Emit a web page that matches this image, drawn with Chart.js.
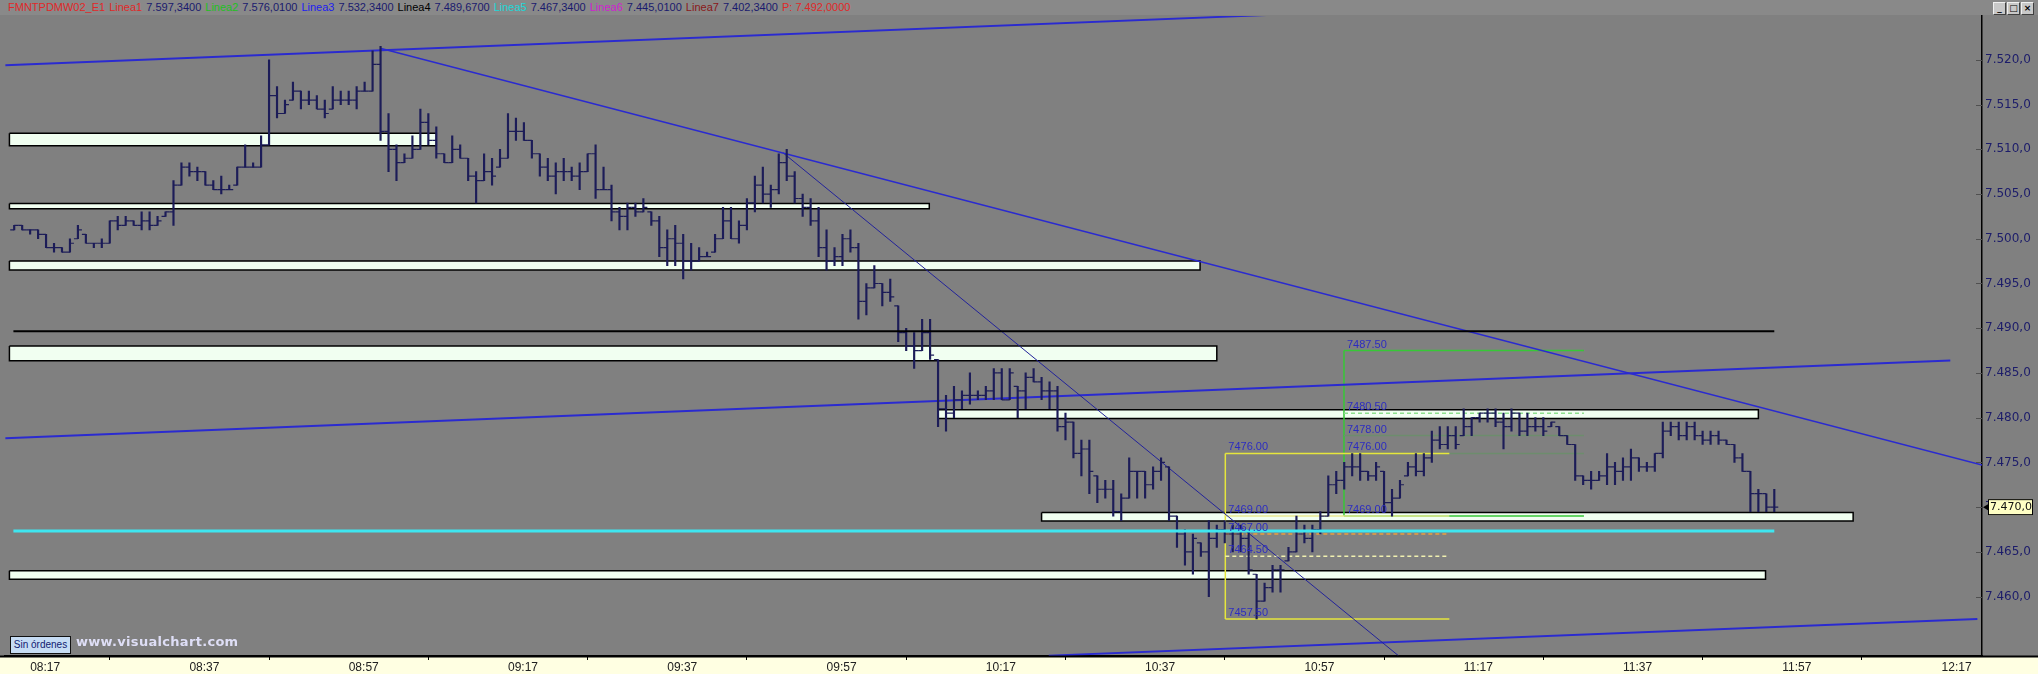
<!DOCTYPE html>
<html><head><meta charset="utf-8">
<script src="https://cdn.jsdelivr.net/npm/chart.js@4.4.1/dist/chart.umd.min.js"></script>
<style>
html,body{margin:0;padding:0;background:#808080;overflow:hidden}
#wrap{position:relative;width:2038px;height:674px}
#c{position:absolute;left:0;top:0}
#hdr{position:absolute;left:0;top:0;width:2038px;height:15px;background:#898989;font:11px "Liberation Sans",Arial,sans-serif;line-height:15px;white-space:nowrap;padding-left:8px;box-sizing:border-box}
#hdr span{margin-right:4px}
.navy{color:#1a1a6e}
#btns{position:absolute;right:4px;top:2px;display:flex;gap:1px}
#btns div{width:11px;height:11px;background:#c8c8c8;border:1px solid #f0f0f0;border-right-color:#404040;border-bottom-color:#404040;font:bold 9px "DejaVu Sans",sans-serif;line-height:10px;text-align:center;color:#000}
#sin{position:absolute;left:10px;top:636px;width:59px;height:16px;background:#c6dcf4;border:1px solid #101010;font:10px "Liberation Sans",Arial,sans-serif;line-height:16px;text-align:center;color:#102070}
#wm{position:absolute;left:76px;top:634px;font:bold 13px "DejaVu Sans",sans-serif;color:#dedef6;letter-spacing:0.3px}
</style></head>
<body>
<div id="wrap">
<canvas id="c" width="2038" height="674"></canvas>
<div id="hdr"><span style="color:#e02828">FMNTPDMW02_E1</span><span style="color:#e02828">Linea1</span><span class="navy">7.597,3400</span><span style="color:#22c022">Linea2</span><span class="navy">7.576,0100</span><span style="color:#2020f0">Linea3</span><span class="navy">7.532,3400</span><span style="color:#000">Linea4</span><span class="navy">7.489,6700</span><span style="color:#20d8d8">Linea5</span><span class="navy">7.467,3400</span><span style="color:#d020d0">Linea6</span><span class="navy">7.445,0100</span><span style="color:#8a1818">Linea7</span><span class="navy">7.402,3400</span><span style="color:#e02828">P: 7.492,0000</span></div>
<div id="btns"><div>_</div><div>□</div><div>×</div></div>
<div id="sin">Sin órdenes</div>
<div id="wm">www.visualchart.com</div>
</div>
<script>
// ---- time axis (minutes after 08:17) ----
const timeTicks = [0,20,40,60,80,100,120,140,160,180,200,220,240];
const timeLabels = ['08:17','08:37','08:57','09:17','09:37','09:57','10:17','10:37','10:57','11:17','11:37','11:57','12:17'];
const priceTicks = [7460,7465,7470,7475,7480,7485,7490,7495,7500,7505,7510,7515,7520];
const firstBar = -2; // first bar at 08:15

// ---- OHLC, one bar per minute from 08:15 ----
const highs = [
7501.5,7501.5,7501.0,7501.0,7500.5,7499.5,7499.0,7500.0,7501.5,7500.5,
7499.5,7500.0,7502.0,7502.5,7502.5,7502.0,7503.0,7503.0,7502.5,7503.0,
7506.5,7508.5,7508.5,7508.0,7507.5,7506.5,7507.0,7506.0,7508.0,7510.5,
7508.5,7511.5,7520.0,7517.0,7515.5,7517.5,7516.5,7516.5,7516.0,7515.5,
7517.0,7516.5,7516.5,7517.0,7517.5,7521.0,7521.5,7514.0,7510.5,7509.5,
7511.5,7514.5,7514.0,7512.5,7509.5,7511.5,7510.5,7509.0,7507.5,7509.5,
7509.0,7510.0,7514.0,7513.5,7513.0,7511.0,7509.5,7509.0,7508.5,7509.0,
7508.0,7508.5,7509.5,7510.5,7508.0,7506.0,7503.5,7504.0,7504.0,7504.5,
7503.0,7502.5,7501.0,7501.5,7500.5,7499.5,7499.0,7498.5,7500.5,7503.5,
7503.5,7502.0,7504.5,7507.0,7508.0,7506.0,7509.5,7510.0,7507.5,7505.0,
7504.5,7503.5,7501.0,7499.0,7500.5,7501.0,7499.5,7495.0,7497.0,7495.0,
7495.5,7492.5,7490.0,7489.5,7491.0,7491.0,7486.5,7482.5,7483.5,7483.0,
7485.0,7483.0,7483.5,7485.5,7485.5,7485.5,7483.5,7485.0,7485.5,7484.5,
7484.0,7483.5,7480.5,7479.5,7477.5,7477.5,7473.5,7473.0,7473.0,7471.5,
7475.5,7474.0,7474.0,7474.5,7475.5,7474.5,7469.0,7467.5,7467.0,7466.0,
7468.5,7468.0,7468.5,7468.0,7468.0,7467.5,7462.5,7461.5,7463.5,7463.5,
7465.5,7469.0,7468.0,7468.0,7469.5,7473.5,7474.0,7475.0,7476.0,7476.0,
7474.0,7475.0,7474.0,7472.0,7473.0,7475.0,7476.0,7476.0,7478.5,7479.0,
7479.0,7479.0,7481.0,7480.0,7480.5,7481.0,7481.0,7480.5,7481.0,7480.5,
7480.5,7480.0,7480.0,7479.5,7479.0,7478.0,7477.0,7473.5,7474.0,7474.0,
7476.0,7475.0,7475.5,7476.5,7475.5,7475.0,7476.0,7479.5,7479.5,7479.5,
7479.5,7479.5,7478.5,7478.5,7478.5,7477.5,7477.0,7476.0,7474.0,7472.0,
7471.5,7472.0];
const lows = [
7501.0,7501.0,7500.5,7500.0,7499.0,7498.5,7498.5,7498.5,7500.0,7499.5,
7499.0,7499.0,7499.5,7501.0,7501.5,7501.5,7501.0,7501.0,7501.5,7502.5,
7501.5,7506.0,7507.0,7506.5,7506.0,7505.5,7505.0,7505.5,7506.0,7508.0,
7508.0,7508.0,7510.5,7513.5,7514.0,7515.5,7514.5,7515.0,7514.5,7513.5,
7514.5,7515.0,7515.0,7514.5,7516.5,7516.5,7511.0,7507.5,7506.5,7508.5,
7509.0,7510.0,7510.5,7509.0,7508.5,7508.5,7509.0,7506.5,7504.0,7506.5,
7506.0,7508.0,7509.0,7511.0,7511.0,7509.0,7507.0,7506.5,7505.0,7506.5,
7506.5,7505.5,7507.5,7504.5,7505.5,7502.0,7501.0,7501.0,7502.5,7503.0,
7501.5,7498.0,7497.0,7497.0,7495.5,7496.5,7497.5,7498.0,7498.5,7500.0,
7500.0,7499.5,7501.0,7503.0,7504.0,7503.5,7505.0,7506.5,7504.0,7502.5,
7501.5,7498.0,7496.5,7497.0,7497.0,7498.5,7491.0,7491.5,7494.5,7492.5,
7493.0,7488.5,7487.5,7485.5,7487.5,7486.5,7479.0,7478.5,7480.0,7481.0,
7481.5,7482.0,7482.0,7482.0,7482.0,7482.0,7480.0,7481.0,7484.0,7482.0,
7481.0,7478.5,7477.5,7475.5,7473.5,7471.5,7470.5,7471.0,7469.0,7468.5,
7471.0,7471.0,7471.0,7472.0,7473.0,7468.5,7465.5,7463.5,7462.5,7464.5,
7460.0,7465.5,7466.0,7465.0,7465.0,7462.5,7457.5,7459.5,7460.5,7460.5,
7464.0,7465.0,7466.0,7465.0,7467.0,7469.0,7471.5,7472.0,7473.5,7473.0,
7473.0,7473.0,7469.5,7469.0,7471.0,7473.5,7473.5,7473.5,7475.0,7476.5,
7476.5,7476.5,7478.0,7478.0,7479.5,7479.5,7479.0,7476.5,7478.5,7478.0,
7478.0,7478.5,7478.0,7479.0,7478.0,7477.0,7473.0,7472.5,7472.0,7473.0,
7472.5,7472.5,7473.0,7473.0,7474.0,7474.0,7474.0,7475.5,7478.0,7477.5,
7477.5,7477.5,7477.0,7477.0,7477.0,7477.0,7475.0,7474.0,7469.5,7469.5,
7469.5,7469.5];
const opens = [
7501.0,7501.5,7501.0,7501.0,7500.5,7499.0,7499.0,7498.5,7500.0,7500.5,
7499.5,7499.5,7499.5,7502.0,7501.5,7502.0,7501.5,7502.0,7501.5,7502.5,
7503.0,7506.0,7508.0,7507.5,7507.5,7506.0,7505.5,7505.5,7506.0,7508.0,
7508.0,7508.0,7510.5,7516.0,7514.0,7515.5,7516.5,7515.5,7515.5,7514.5,
7514.5,7515.5,7515.5,7515.5,7516.5,7516.5,7519.5,7512.0,7510.0,7508.5,
7509.0,7510.0,7513.0,7511.0,7509.5,7508.5,7510.0,7509.0,7507.0,7506.5,
7507.5,7508.0,7509.0,7512.0,7512.0,7511.0,7509.5,7508.0,7507.0,7507.5,
7507.5,7507.0,7507.5,7509.5,7505.5,7505.5,7503.0,7502.5,7503.5,7503.0,
7503.0,7502.0,7499.0,7500.0,7499.5,7497.5,7497.5,7498.0,7498.5,7500.0,
7502.0,7500.0,7501.5,7504.0,7506.0,7505.0,7505.5,7508.5,7507.0,7504.5,
7503.5,7502.0,7499.0,7497.5,7498.0,7500.0,7499.0,7493.0,7494.5,7495.0,
7494.0,7492.5,7489.5,7488.0,7487.5,7489.5,7486.5,7481.0,7480.5,7482.0,
7482.5,7482.5,7482.5,7483.0,7485.0,7482.0,7483.5,7483.0,7484.5,7484.0,
7483.0,7483.0,7479.0,7479.5,7476.0,7476.5,7473.5,7472.0,7472.0,7469.5,
7471.0,7474.0,7474.0,7472.5,7474.0,7474.5,7469.0,7467.0,7465.0,7466.0,
7465.0,7466.5,7467.5,7467.0,7467.0,7466.5,7462.5,7459.5,7461.0,7463.0,
7464.0,7465.0,7467.0,7466.5,7467.5,7469.0,7472.5,7473.0,7474.5,7474.5,
7474.0,7473.5,7474.0,7470.5,7471.0,7473.5,7474.5,7474.0,7475.5,7477.5,
7477.0,7478.0,7478.0,7479.0,7480.0,7480.5,7480.5,7479.5,7479.0,7480.5,
7478.5,7479.0,7479.0,7479.0,7479.0,7478.0,7477.0,7473.5,7473.0,7473.0,
7473.5,7474.5,7474.0,7474.5,7475.5,7474.5,7474.5,7476.0,7478.5,7479.0,
7478.0,7479.0,7478.0,7477.5,7478.0,7477.5,7477.0,7475.5,7474.0,7471.5,
7471.5,7470.0];
const closes = [
7501.5,7501.0,7501.0,7500.5,7499.0,7499.0,7498.5,7499.5,7501.0,7499.5,
7499.5,7499.5,7502.0,7501.5,7502.0,7501.5,7502.0,7501.5,7502.0,7503.0,
7506.0,7508.0,7507.5,7507.5,7506.0,7505.5,7505.5,7505.5,7508.0,7508.0,
7508.0,7510.5,7516.0,7514.0,7515.0,7516.5,7515.5,7515.5,7514.5,7514.0,
7515.5,7515.5,7515.5,7516.5,7516.5,7519.5,7512.0,7510.0,7508.5,7509.0,
7510.0,7513.0,7511.0,7509.5,7508.5,7510.0,7509.0,7507.0,7506.5,7507.5,
7507.0,7509.0,7512.0,7512.0,7511.0,7509.5,7508.0,7507.0,7507.5,7507.5,
7507.0,7507.5,7509.5,7505.5,7505.5,7503.0,7502.5,7503.5,7503.0,7503.5,
7502.0,7499.0,7500.0,7499.5,7497.5,7497.5,7498.0,7498.0,7500.0,7502.0,
7500.0,7501.5,7504.0,7506.0,7505.0,7505.5,7508.5,7507.0,7504.5,7503.5,
7502.0,7499.0,7497.5,7498.0,7500.0,7499.0,7493.0,7494.5,7495.0,7494.0,
7493.5,7489.5,7488.0,7487.5,7489.5,7487.0,7481.0,7480.5,7482.0,7482.5,
7482.5,7482.5,7483.0,7485.0,7482.0,7485.0,7483.0,7484.5,7484.0,7483.0,
7483.0,7479.0,7479.5,7476.0,7476.5,7474.0,7472.0,7472.0,7469.5,7471.0,
7474.0,7474.0,7472.5,7474.0,7475.0,7469.0,7467.0,7465.0,7466.5,7465.0,
7466.5,7467.5,7467.0,7467.0,7466.5,7463.0,7459.5,7461.0,7463.0,7463.0,
7465.0,7467.0,7466.5,7467.5,7469.0,7472.5,7473.0,7474.5,7474.5,7474.0,
7473.5,7474.5,7470.5,7471.0,7472.5,7474.5,7474.0,7475.5,7477.5,7477.0,
7478.0,7477.0,7479.0,7480.0,7480.5,7480.5,7479.5,7479.0,7480.5,7478.5,
7479.0,7479.0,7478.5,7479.5,7478.0,7477.0,7473.5,7473.0,7473.0,7473.5,
7474.5,7474.0,7474.5,7475.5,7474.5,7474.5,7476.0,7478.5,7479.0,7478.0,
7479.0,7478.0,7477.5,7478.0,7477.5,7477.0,7475.5,7474.0,7471.5,7471.5,
7470.0,7470.0];

// ---- horizontal levels (Linea4 black, Linea5 cyan) ----
const linea4 = 7489.67;
const linea5 = 7467.34;
const levelSpan = [-2.1, 219];

// ---- white support/resistance zones ----
const boxStart  = [-2.6, -2.6, -2.6, -2.6, 114.0, 127.0, -2.6];
const boxEnd    = [51.0, 112.9, 146.9, 149.0, 217.0, 228.9, 217.9];
const boxTop    = [7511.8, 7503.95, 7497.5, 7488.0, 7480.9, 7469.4, 7462.9];
const boxBottom = [7510.4, 7503.35, 7496.5, 7486.35, 7479.9, 7468.45, 7461.95];

// ---- trend lines ----
const trendX1 = [-3.13, 43.96, 94.55, -3.13, 127.9];
const trendY1 = [7519.4, 7521.3, 7509.6, 7477.7, 7453.4];
const trendX2 = [155.2, 245.08, 171.8, 241.1, 244.5];
const trendY2 = [7525.0, 7474.7, 7453.4, 7486.4, 7457.5];

// ---- retracement boxes ----
const fibYellowX = [150.07, 178.2];
const fibYellowLevels = [7476, 7469, 7467, 7464.5, 7457.5];
const fibGreenX = [164.97, 195.1];
const fibGreenLevels = [7487.5, 7480.5, 7478, 7476, 7469];

const X_MIN = -3.13, X_MAX = 245.08, Y_MIN = 7453.36, Y_MAX = 7524.9;
const NAVY = '#1c1c58';

function fmtPrice(v){
  const s = v.toFixed(1).split('.');
  return s[0].replace(/\B(?=(\d{3})+(?!\d))/g,'.') + ',' + s[1];
}

const datasets = [];
datasets.push({type:'bar', data: highs.map((h,i)=>({x:firstBar+i, y:[lows[i], h]})),
  backgroundColor:NAVY, borderWidth:0, barThickness:1.5, order:10});
datasets.push({type:'line', showLine:false, data: opens.map((o,i)=>({x:firstBar+i-0.25, y:o})),
  pointStyle:'line', pointRadius:2, borderWidth:1.2, borderColor:NAVY, order:9});
datasets.push({type:'line', showLine:false, data: closes.map((c,i)=>({x:firstBar+i+0.25, y:c})),
  pointStyle:'line', pointRadius:2, borderWidth:1.2, borderColor:NAVY, order:9});

for (let i=0;i<boxStart.length;i++){
  datasets.push({type:'line', data:[{x:boxStart[i],y:boxTop[i]},{x:boxEnd[i],y:boxTop[i]},{x:boxEnd[i],y:boxBottom[i]},{x:boxStart[i],y:boxBottom[i]},{x:boxStart[i],y:boxTop[i]}],
    fill:'shape', backgroundColor:'#f1fff1', borderColor:'#000', borderWidth:1.5, pointRadius:0, tension:0, order:40, borderJoinStyle:'miter'});
}
const trendColor = ['#2a2ad0','#2a2ad0','#22229a','#2a2ad0','#2a2ad0'];
const trendWidth = [2,1.5,1,2,2];
for (let i=0;i<trendX1.length;i++){
  datasets.push({type:'line', data:[{x:trendX1[i],y:trendY1[i]},{x:trendX2[i],y:trendY2[i]}],
    borderColor:trendColor[i], borderWidth:trendWidth[i], pointRadius:0, fill:false, order:20});
}
const yStyles = [{c:'#e6e63c',d:[]},{c:'#e8e890',d:[]},{c:'#e8a040',d:[4,3]},{c:'#f0f0b0',d:[4,3]},{c:'#e6e63c',d:[]}];
fibYellowLevels.forEach((v,i)=>datasets.push({type:'line', data:[{x:fibYellowX[0],y:v},{x:fibYellowX[1],y:v}],
  borderColor:yStyles[i].c, borderDash:yStyles[i].d, borderWidth:1.5, pointRadius:0, order:24}));
datasets.push({type:'line', data:[{x:fibYellowX[0],y:fibYellowLevels[0]},{x:fibYellowX[0],y:fibYellowLevels[4]}],
  borderColor:'#e6e63c', borderWidth:1.5, pointRadius:0, order:24});
const gStyles = [{c:'#36c836',d:[]},{c:'#8ee08e',d:[4,3]},{c:'#6d8d6d',d:[]},{c:'#6d8d6d',d:[]},{c:'#36c836',d:[]}];
fibGreenLevels.forEach((v,i)=>datasets.push({type:'line', data:[{x:fibGreenX[0],y:v},{x:fibGreenX[1],y:v}],
  borderColor:gStyles[i].c, borderDash:gStyles[i].d, borderWidth:1.5, pointRadius:0, order:26}));
datasets.push({type:'line', data:[{x:fibGreenX[0],y:fibGreenLevels[0]},{x:fibGreenX[0],y:fibGreenLevels[4]}],
  borderColor:'#36c836', borderWidth:1.5, pointRadius:0, order:26});
datasets.push({type:'line', data:[{x:levelSpan[0],y:linea4},{x:levelSpan[1],y:linea4}], borderColor:'#000', borderWidth:2, pointRadius:0, order:3});
datasets.push({type:'line', data:[{x:levelSpan[0],y:linea5},{x:levelSpan[1],y:linea5}], borderColor:'#3ee6f0', borderWidth:3, pointRadius:0, order:2});

const decor = {
  id:'decor',
  beforeDraw(chart){
    const {ctx, width, height, chartArea} = chart;
    ctx.save();
    ctx.fillStyle='#808080'; ctx.fillRect(0,0,width,height);
    ctx.fillStyle='#ffffe2'; ctx.fillRect(0,chartArea.bottom,width,height-chartArea.bottom);
    ctx.restore();
  },
  afterDatasetsDraw(chart){
    const {ctx, scales:{x,y}} = chart;
    ctx.save();
    ctx.font='11px "Liberation Sans", Arial, sans-serif';
    ctx.fillStyle='#2c2cc0'; ctx.textBaseline='alphabetic'; ctx.textAlign='left';
    fibYellowLevels.forEach(v=>ctx.fillText(v.toFixed(2), x.getPixelForValue(fibYellowX[0])+3, y.getPixelForValue(v)-3));
    fibGreenLevels.forEach(v=>ctx.fillText(v.toFixed(2), x.getPixelForValue(fibGreenX[0])+3, y.getPixelForValue(v)-3));
    ctx.restore();
  },
  afterDraw(chart){
    const {ctx, width, chartArea, scales:{y}} = chart;
    ctx.save();
    ctx.strokeStyle='#000'; ctx.lineWidth=2;
    ctx.beginPath(); ctx.moveTo(0,chartArea.bottom+0.5); ctx.lineTo(width,chartArea.bottom+0.5); ctx.stroke();
    ctx.lineWidth=1; ctx.strokeStyle='#505050';
    y.ticks.forEach(t=>{const py=Math.round(y.getPixelForValue(t.value))+0.5; ctx.beginPath(); ctx.moveTo(chartArea.right-6,py); ctx.lineTo(chartArea.right,py); ctx.stroke();});
    const last = closes[closes.length-1];
    const py = y.getPixelForValue(last);
    const x0 = chartArea.right+6;
    ctx.fillStyle='#000';
    ctx.beginPath(); ctx.moveTo(chartArea.right+1,py); ctx.lineTo(x0,py-3); ctx.lineTo(x0,py+3); ctx.closePath(); ctx.fill();
    ctx.fillStyle='#ffffc4'; ctx.fillRect(x0,py-8,45,16);
    ctx.strokeStyle='#000'; ctx.strokeRect(x0+0.5,py-7.5,44,15);
    ctx.fillStyle='#101010'; ctx.font='11px "DejaVu Sans", sans-serif'; ctx.textBaseline='middle'; ctx.textAlign='left';
    ctx.fillText(fmtPrice(last), x0+2, py+0.5);
    ctx.restore();
  }
};

new Chart(document.getElementById('c'), {
  type:'line',
  data:{datasets},
  options:{
    responsive:false, devicePixelRatio:1, animation:false, events:[],
    layout:{padding:{top:16,left:0,right:0,bottom:0}},
    plugins:{legend:{display:false}, tooltip:{enabled:false}},
    scales:{
      x:{type:'linear', min:X_MIN, max:X_MAX, offset:false,
        afterFit(s){ s.height = 18; },
        afterBuildTicks(s){ s.ticks = timeTicks.map(v=>({value:v})); },
        ticks:{autoSkip:false, maxRotation:0, minRotation:0, align:'start', padding:0,
          font:{family:'"Liberation Sans", Arial, sans-serif', size:12}, color:'#202020',
          callback:(v)=>{ const i = timeTicks.indexOf(v); return i>=0 ? timeLabels[i] : ''; }},
        grid:{drawOnChartArea:false, drawTicks:true, tickLength:4, color:'#000', lineWidth:1},
        border:{display:true, color:'#000', width:2}
      },
      y:{type:'linear', position:'right', min:Y_MIN, max:Y_MAX,
        afterFit(s){ s.width = 56; },
        afterBuildTicks(s){ s.ticks = priceTicks.map(v=>({value:v})); },
        ticks:{padding:3, font:{family:'"DejaVu Sans", sans-serif', size:12}, color:'#1c1c6a',
          callback:(v)=>fmtPrice(v)},
        grid:{drawOnChartArea:false, drawTicks:false},
        border:{display:true, color:'#000', width:1.5}
      }
    }
  },
  plugins:[decor]
});
</script>
</body></html>
